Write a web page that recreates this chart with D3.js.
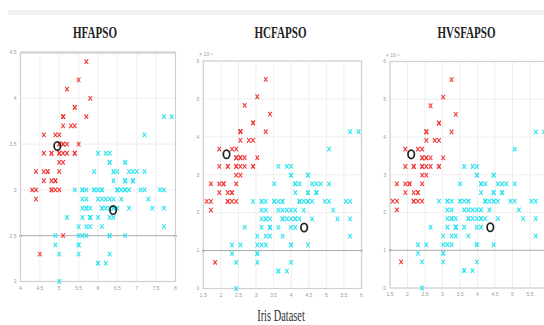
<!DOCTYPE html>
<html><head><meta charset="utf-8">
<script src="https://cdn.jsdelivr.net/npm/d3@7"></script>
<style>body{margin:0;background:#fff}svg{display:block}</style>
</head><body>
<svg id="c" width="544" height="325"></svg>
<script>
// Iris sepal length / width
const sepalLength = [5.1,4.9,4.7,4.6,5.0,5.4,4.6,5.0,4.4,4.9,5.4,4.8,4.8,4.3,5.8,5.7,5.4,5.1,5.7,5.1,5.4,5.1,4.6,5.1,4.8,5.0,5.0,5.2,5.2,4.7,4.8,5.4,5.2,5.5,4.9,5.0,5.5,4.9,4.4,5.1,5.0,4.5,4.4,5.0,5.1,4.8,5.1,4.6,5.3,5.0,
7.0,6.4,6.9,5.5,6.5,5.7,6.3,4.9,6.6,5.2,5.0,5.9,6.0,6.1,5.6,6.7,5.6,5.8,6.2,5.6,5.9,6.1,6.3,6.1,6.4,6.6,6.8,6.7,6.0,5.7,5.5,5.5,5.8,6.0,5.4,6.0,6.7,6.3,5.6,5.5,5.5,6.1,5.8,5.0,5.6,5.7,5.7,6.2,5.1,5.7,
6.3,5.8,7.1,6.3,6.5,7.6,4.9,7.3,6.7,7.2,6.5,6.4,6.8,5.7,5.8,6.4,6.5,7.7,7.7,6.0,6.9,5.6,7.7,6.3,6.7,7.2,6.2,6.1,6.4,7.2,7.4,7.9,6.4,6.3,6.1,7.7,6.3,6.4,6.0,6.9,6.7,6.9,5.8,6.8,6.7,6.7,6.3,6.5,6.2,5.9];
const sepalWidth = [3.5,3.0,3.2,3.1,3.6,3.9,3.4,3.4,2.9,3.1,3.7,3.4,3.0,3.0,4.0,4.4,3.9,3.5,3.8,3.8,3.4,3.7,3.6,3.3,3.4,3.0,3.4,3.5,3.4,3.2,3.1,3.4,4.1,4.2,3.1,3.2,3.5,3.6,3.0,3.4,3.5,2.3,3.2,3.5,3.8,3.0,3.8,3.2,3.7,3.3,
3.2,3.2,3.1,2.3,2.8,2.8,3.3,2.4,2.9,2.7,2.0,3.0,2.2,2.9,2.9,3.1,3.0,2.7,2.2,2.5,3.2,2.8,2.5,2.8,2.9,3.0,2.8,3.0,2.9,2.6,2.4,2.4,2.7,2.7,3.0,3.4,3.1,2.3,3.0,2.5,2.6,3.0,2.6,2.3,2.7,3.0,2.9,2.9,2.5,2.8,
3.3,2.7,3.0,2.9,3.0,3.0,2.5,2.9,2.5,3.6,3.2,2.7,3.0,2.5,2.8,3.2,3.0,3.8,2.6,2.2,3.2,2.8,2.8,2.7,3.3,3.2,2.8,3.0,2.8,3.0,2.8,3.8,2.8,2.8,2.6,3.0,3.4,3.1,3.0,3.1,3.1,3.1,2.7,3.2,3.3,3.0,2.5,3.0,3.4,3.0];

// cluster labels per method (1 = red cluster, 0 = cyan cluster)
const clusterHFAPSO = [1,1,1,1,1,1,1,1,1,1,1,1,1,1,1,1,1,1,1,1,1,1,1,1,1,1,1,1,1,1,1,1,1,1,1,1,1,1,1,1,1,1,1,1,1,1,1,1,1,1,
0,0,0,0,0,0,0,0,0,0,0,0,0,0,0,0,0,0,0,0,0,0,0,0,0,0,0,0,0,0,0,0,0,0,0,0,0,0,0,0,0,0,0,0,0,0,0,0,1,0,
0,0,0,0,0,0,0,0,0,0,0,0,0,0,0,0,0,0,0,0,0,0,0,0,0,0,0,0,0,0,0,0,0,0,0,0,0,0,0,0,0,0,0,0,0,0,0,0,0,0];
const clusterHCFAPSO = [1,1,1,1,1,1,1,1,1,1,1,1,1,1,1,1,1,1,1,1,1,1,1,1,1,1,1,1,1,1,1,1,1,1,1,1,1,1,1,1,1,1,1,1,1,1,1,1,1,1,
0,0,0,0,0,0,0,0,0,0,0,0,0,0,0,0,0,0,0,0,0,0,0,0,0,0,0,0,0,0,0,0,0,0,0,0,0,0,0,0,0,0,0,0,0,0,0,0,0,0,
0,0,0,0,0,0,0,0,0,0,0,0,0,0,0,0,0,0,0,0,0,0,0,0,0,0,0,0,0,0,0,0,0,0,0,0,0,0,0,0,0,0,0,0,0,0,0,0,0,0];
const clusterHVSFAPSO = clusterHCFAPSO.slice();

// cluster centres [x, y]
const centresHFAPSO = [[4.95,3.48],[6.39,2.78]];
const centresHCFAPSO = [[4.77,3.54],[6.61,2.70]];
const centresHVSFAPSO = [[4.74,3.54],[6.62,2.70]];

const titles = ["HFAPSO","HCFAPSO","HVSFAPSO"];
const caption = "Iris Dataset";

// tick labels
const xTickLabels1 = ["4","4.5","5","5.5","6","6.5","7","7.5","8"];
const yTickLabels1 = ["2","2.5","3","3.5","4","4.5"];
const xTickLabels2 = ["1.5","2","2.5","3","3.5","4","4.5","5","5.5","6"];
const yTickLabels2 = ["0","1","2","3","4","5","6"];
const exponentLabel = "× 10⁻¹";

const panels = [
  {title:titles[0], cl:clusterHFAPSO, cen:centresHFAPSO, x0:20.5, x1:175.5, y0:52.5, y1:281.5,
   xd:[4,8], yd:[2,4.5], xl:xTickLabels1, yl:yTickLabels1, exp:false, tx:95, darkIdx:1, thickTop:true},
  {title:titles[1], cl:clusterHCFAPSO, cen:centresHCFAPSO, x0:203.3, x1:361.5, y0:61, y1:288.5,
   xd:[4.22,7.97], yd:[2.0,4.61], xl:xTickLabels2, yl:yTickLabels2, exp:true, tx:280.5, darkIdx:1},
  {title:titles[2], cl:clusterHVSFAPSO, cen:centresHVSFAPSO, x0:390, x1:547.5, y0:61.5, y1:288,
   xd:[4.236,7.98], yd:[2.0,4.61], xl:xTickLabels2, yl:yTickLabels2, exp:true, tx:466.5, darkIdx:1}
];

const W = 544;
const svg = d3.select("#c");
svg.append("rect").attr("x",8).attr("y",10).attr("width",536).attr("height",5).attr("fill","#f1f1f1");

const RED = "#f23a3a", CYAN = "#2fe3f0";

panels.forEach(p => {
  const x = d3.scaleLinear().domain(p.xd).range([p.x0, p.x1]);
  const y = d3.scaleLinear().domain(p.yd).range([p.y1, p.y0]);
  const g = svg.append("g");
  const nx = p.xl.length, ny = p.yl.length;
  const xt = d3.range(nx).map(i => p.xd[0] + i*(p.xd[1]-p.xd[0])/(nx-1));
  const yt = d3.range(ny).map(i => p.yd[0] + i*(p.yd[1]-p.yd[0])/(ny-1));

  // grid
  g.selectAll(".gx").data(xt).join("line")
    .attr("x1",d=>x(d)).attr("x2",d=>x(d)).attr("y1",p.y0).attr("y2",p.y1)
    .attr("stroke","#ebebeb").attr("stroke-width",0.8);
  g.selectAll(".gy").data(yt).join("line")
    .attr("y1",d=>y(d)).attr("y2",d=>y(d)).attr("x1",p.x0).attr("x2",p.x1)
    .attr("stroke",(d,i)=> i===p.darkIdx ? "#a8a8a8" : "#ebebeb")
    .attr("stroke-width",(d,i)=> i===p.darkIdx ? 1 : 0.8);
  const dk = yt[p.darkIdx];
  [p.x0, p.x1].forEach(xx => g.append("circle").attr("cx",xx).attr("cy",y(dk)).attr("r",1.2).attr("fill","#888"));

  // frame
  g.append("rect").attr("x",p.x0).attr("y",p.y0).attr("width",p.x1-p.x0).attr("height",p.y1-p.y0)
    .attr("fill","none").attr("stroke","#cfcfcf").attr("stroke-width",1.2);
  if (p.thickTop) g.append("line").attr("x1",p.x0).attr("x2",p.x1).attr("y1",p.y0).attr("y2",p.y0)
    .attr("stroke","#d6d6d6").attr("stroke-width",2.6);

  // tick labels (only those inside the visible picture)
  const xtVis = xt.map((d,i)=>({d, i})).filter(o => x(o.d) < W - 4);
  g.selectAll(".xl").data(xtVis).join("text")
    .attr("x",o=>x(o.d)).attr("y",p.y1+8).attr("text-anchor","middle")
    .attr("font-family","Liberation Sans, Arial").attr("font-size",5).attr("fill","#999")
    .text(o=>p.xl[o.i]);
  g.selectAll(".yl").data(yt).join("text")
    .attr("x",p.x0-4).attr("y",d=>y(d)+1.8).attr("text-anchor","end")
    .attr("font-family","Liberation Sans, Arial").attr("font-size",5).attr("fill","#999")
    .text((d,i)=>p.yl[i]);
  if (p.exp) g.append("text").attr("x",p.x0-4).attr("y",p.y0-5)
    .attr("font-family","Liberation Sans, Arial").attr("font-size",5).attr("fill","#999").text(exponentLabel);

  // points
  const idx = d3.range(sepalLength.length);
  const hw = 1.8, hh = 2.3;
  g.selectAll(".pt").data(idx).join("path")
    .attr("d", i => {
      const cx = x(sepalLength[i]), cy = y(sepalWidth[i]);
      return `M${cx-hw},${cy-hh}L${cx+hw},${cy+hh}M${cx-hw},${cy+hh}L${cx+hw},${cy-hh}`;
    })
    .attr("stroke", i => p.cl[i] ? RED : CYAN).attr("stroke-width",1.1).attr("fill","none");

  // centres
  g.selectAll(".cen").data(p.cen).join("ellipse")
    .attr("cx",d=>x(d[0])).attr("cy",d=>y(d[1])).attr("rx",3.2).attr("ry",4.2)
    .attr("fill","none").attr("stroke","#222").attr("stroke-width",1.7);

  // title
  svg.append("text").attr("transform",`translate(${p.tx},38) scale(0.65,1)`)
    .attr("text-anchor","middle").attr("font-family","Liberation Serif, Times New Roman")
    .attr("font-weight","bold").attr("font-size",17).attr("fill","#222").text(p.title);
});

svg.append("text").attr("transform","translate(281,321) scale(0.65,1)")
  .attr("text-anchor","middle").attr("font-family","Liberation Serif, Times New Roman")
  .attr("font-size",16).attr("fill","#333").text(caption);
</script>
</body></html>
